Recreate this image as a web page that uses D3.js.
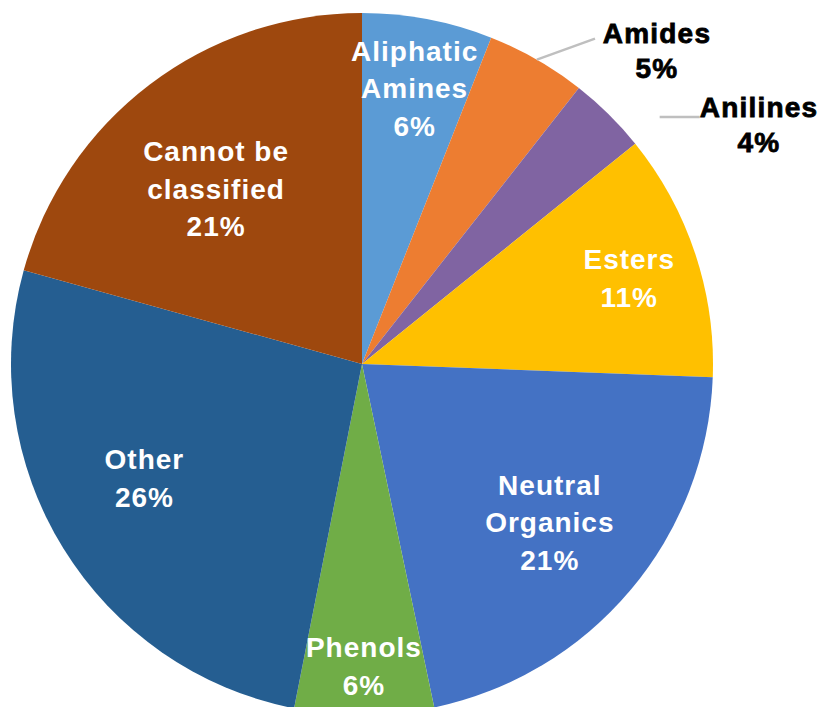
<!DOCTYPE html>
<html>
<head>
<meta charset="utf-8">
<script src="https://cdn.jsdelivr.net/npm/d3@7"></script>
<style>
  body { margin: 0; background: #fff; }
  svg text { font-family: "Liberation Sans", Arial, sans-serif; font-weight: bold; }
</style>
</head>
<body>
<svg id="chart"></svg>
<script>
// data (going clockwise from 12 o'clock)
var categories = ["Aliphatic Amines", "Amides", "Anilines", "Esters", "Neutral Organics", "Phenols", "Other", "Cannot be classified"];
var values = [6.0, 4.6, 3.6, 11.4, 21.1, 6.4, 26.2, 20.7];
var pctLabels = ["6%", "5%", "4%", "11%", "21%", "6%", "26%", "21%"];
var colors = ["#5B9BD5", "#ED7D31", "#8064A2", "#FFC000", "#4472C4", "#70AD47", "#255E91", "#9E480E"];

var screen = {width: 821, height: 707};
var cx = 362, cy = 364, R = 351;

// label layout (not data): line breaks, radial factor and angle nudge (deg) for inside labels
var nameLines = [["Aliphatic", "Amines"], ["Amides"], ["Anilines"], ["Esters"], ["Neutral", "Organics"], ["Phenols"], ["Other"], ["Cannot be", "classified"]];
var labelFactor = [0.8, 0, 0, 0.8, 0.7, 0.86, 0.7, 0.65];
var labelNudge = [0, 0, 0, 0.5, 0, 0, 4, -2.5];
var outside = [false, true, true, false, false, false, false, false];
var fontSize = 28, lineH = 37.5;

var svg = d3.select("#chart")
  .attr("width", screen.width)
  .attr("height", screen.height);

var g = svg.append("g")
  .attr("transform", "translate(" + cx + "," + cy + ")");

var pie = d3.pie().sort(null).value(function(d){ return d; });
var arcs = pie(values);

var arc = d3.arc().innerRadius(0).outerRadius(R);

g.selectAll("path.slice")
  .data(arcs)
  .enter()
  .append("path")
  .attr("class", "slice")
  .attr("d", arc)
  .attr("fill", function(d, i){ return colors[i]; });

// helper: point at angle (d3 angle, 0 = up) and radius
var pt = function(a, r){ return [Math.sin(a) * r, -Math.cos(a) * r]; };
var rad = Math.PI / 180;

// inside labels
arcs.forEach(function(d, i){
  if (outside[i]) return;
  var mid = (d.startAngle + d.endAngle) / 2 + labelNudge[i] * rad;
  var p = pt(mid, R * labelFactor[i]);
  var lines = nameLines[i].concat([pctLabels[i]]);
  var t = g.append("text")
    .attr("text-anchor", "middle")
    .attr("fill", "#fff")
    .attr("font-size", fontSize)
    .attr("letter-spacing", 1);
  lines.forEach(function(s, k){
    t.append("tspan")
      .attr("x", p[0])
      .attr("y", p[1] + (k - (lines.length - 1) / 2) * lineH + fontSize * 0.36)
      .text(s);
  });
});

// outside labels with leader lines
var leader = d3.line();
var outsideText = {1: [295, -331], 2: [397, -257]};
arcs.forEach(function(d, i){
  if (!outside[i]) return;
  var mid = (d.startAngle + d.endAngle) / 2;
  var pts;
  if (i === 1) {
    var a = pt(mid, R * 1.0);
    var b = pt(mid + 0.1, R * 1.14);
    pts = [a, b];
  } else {
    var a2 = pt(mid + 0.1, R * 1.09);
    pts = [[a2[0] + 3, a2[1] - 3], [a2[0] + 43, a2[1] - 3]];
  }
  g.append("path")
    .attr("d", leader(pts))
    .attr("fill", "none")
    .attr("stroke", "#BFBFBF")
    .attr("stroke-width", 2.5);
  var lp = outsideText[i];
  var lines = nameLines[i].concat([pctLabels[i]]);
  var t = g.append("text")
    .attr("text-anchor", "middle")
    .attr("fill", "#000")
    .attr("stroke", "#000")
    .attr("stroke-width", 0.8)
    .attr("font-size", 28)
    .attr("letter-spacing", 1.2);
  lines.forEach(function(s, k){
    t.append("tspan")
      .attr("x", lp[0])
      .attr("y", lp[1] + k * 35 + 10)
      .text(s);
  });
});
</script>
</body>
</html>
